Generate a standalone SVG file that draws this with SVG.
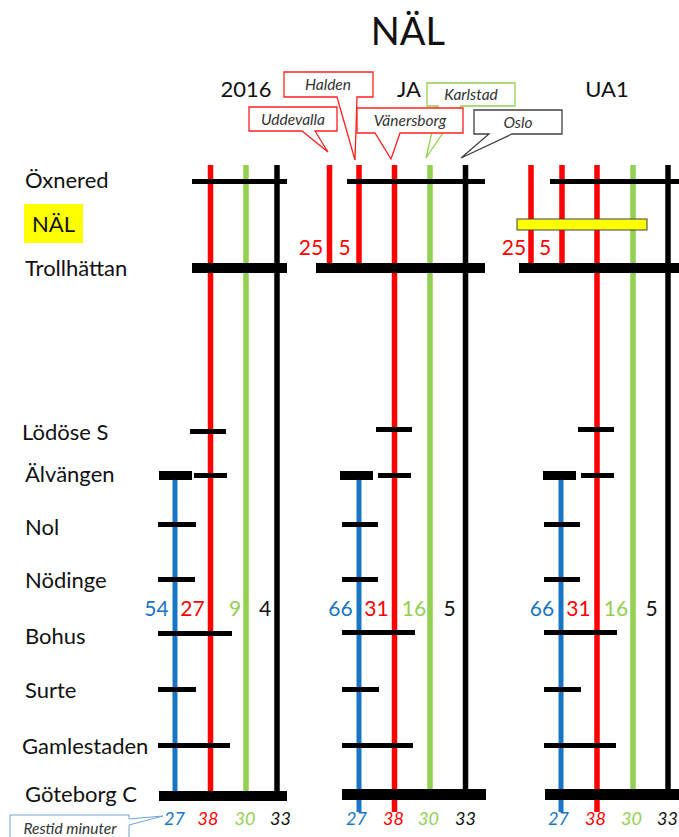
<svg xmlns="http://www.w3.org/2000/svg" width="679" height="837" viewBox="0 0 679 837">
<style>
text{font-family:Lato,"Liberation Sans",sans-serif;fill:#111}
.st{font-size:22px}
.hd{font-size:22px}
.num{font-size:21px;text-anchor:middle}
.bn{font-size:18px;font-style:italic;text-anchor:middle}
.co{font-size:15.5px;font-style:italic;text-anchor:middle;fill:#333}
.r{stroke:#FF0000;stroke-width:5.5;fill:none}
.g{stroke:#92D050;stroke-width:5.5;fill:none}
.k{stroke:#000;stroke-width:5.5;fill:none}
.b{stroke:#1874C4;stroke-width:5;fill:none}
.bar{fill:#000}
.tr{fill:#FF0000}.tg{fill:#92D050}.tb{fill:#1874C4}.tk{fill:#111}
.cr{fill:#fff;stroke:#FF2020;stroke-width:1.3}
.cg{fill:#fff;stroke:#92D050;stroke-width:1.3}
.ck{fill:#fff;stroke:#404040;stroke-width:1.3}
.cb{fill:#fff;stroke:#6FA3D8;stroke-width:1}
</style>
<rect width="679" height="837" fill="#fff"/>
<text x="408" y="45" font-size="38" text-anchor="middle">NÄL</text>
<g id="headers">
<text x="246" y="97" text-anchor="middle" class="hd">2016</text>
<text x="409" y="97" text-anchor="middle" class="hd">JA</text>
<text x="607" y="97" text-anchor="middle" class="hd">UA1</text>
</g>
<g id="stations">
<text class="st" x="25" y="188">Öxnered</text>
<g id="nal-label"><rect x="24" y="204" width="59" height="39" fill="#FFFF00"/><text class="st" x="32" y="232" font-size="23">NÄL</text></g>
<text class="st" x="25" y="276">Trollhättan</text>
<text class="st" x="22" y="440">Lödöse S</text>
<text class="st" x="25" y="482">Älvängen</text>
<text class="st" x="25" y="535">Nol</text>
<text class="st" x="25" y="588">Nödinge</text>
<text class="st" x="25" y="644">Bohus</text>
<text class="st" x="25" y="698">Surte</text>
<text class="st" x="22" y="754">Gamlestaden</text>
<text class="st" x="25" y="802">Göteborg C</text>
</g>
<g id="connectors">
<line class="r" x1="210.5" y1="165" x2="210.5" y2="795"/>
<line class="g" x1="246" y1="165" x2="246" y2="795"/>
<line class="k" x1="277" y1="165" x2="277" y2="797"/>
<line class="b" x1="175" y1="476" x2="175" y2="795"/>
<line class="r" x1="329.5" y1="165" x2="329.5" y2="266"/>
<line class="r" x1="359" y1="165" x2="359" y2="266"/>
<line class="r" x1="394.5" y1="165" x2="394.5" y2="812"/>
<line class="g" x1="430" y1="165" x2="430" y2="795"/>
<line class="k" x1="465.5" y1="165" x2="465.5" y2="795"/>
<line class="b" x1="359" y1="476" x2="359" y2="812"/>
<line class="r" x1="531" y1="165" x2="531" y2="266"/>
<line class="r" x1="562" y1="165" x2="562" y2="266"/>
<line class="r" x1="597" y1="165" x2="597" y2="812"/>
<line class="g" x1="633" y1="165" x2="633" y2="795"/>
<line class="k" x1="668" y1="165" x2="668" y2="795"/>
<line class="b" x1="561" y1="476" x2="561" y2="812"/>
</g>
<g id="panel-2016">
<rect class="bar" x="192" y="179" width="95" height="5"/>
<rect class="bar" x="192" y="263" width="95" height="10"/>
<rect class="bar" x="190" y="429" width="36" height="5"/>
<rect class="bar" x="194" y="473" width="33" height="5"/>
<rect class="bar" x="159" y="471" width="33" height="9"/>
<rect class="bar" x="158" y="522" width="38" height="5"/>
<rect class="bar" x="158" y="577" width="37" height="5"/>
<rect class="bar" x="158" y="631" width="74" height="5"/>
<rect class="bar" x="158" y="687" width="38" height="5"/>
<rect class="bar" x="158" y="743" width="72" height="5"/>
<rect class="bar" x="159" y="791" width="128" height="10"/>
<text class="num tb" x="156.5" y="616">54</text>
<text class="num tr" x="192.5" y="616">27</text>
<text class="num tg" x="235" y="616">9</text>
<text class="num tk" x="265" y="616">4</text>
<text class="bn tb" x="174.5" y="825">27</text>
<text class="bn tr" x="208" y="825">38</text>
<text class="bn tg" x="245" y="825">30</text>
<text class="bn tk" x="280.5" y="825">33</text>
</g>
<g id="panel-JA">
<rect class="bar" x="347" y="179" width="138" height="5"/>
<rect class="bar" x="316" y="263" width="169" height="10"/>
<rect class="bar" x="376" y="427" width="36" height="5"/>
<rect class="bar" x="378" y="473" width="33" height="5"/>
<rect class="bar" x="340" y="471" width="33" height="9"/>
<rect class="bar" x="342" y="522" width="36" height="5"/>
<rect class="bar" x="342" y="577" width="36" height="5"/>
<rect class="bar" x="342" y="630" width="73" height="5"/>
<rect class="bar" x="342" y="687" width="37" height="5"/>
<rect class="bar" x="342" y="743" width="71" height="5"/>
<rect class="bar" x="342" y="789" width="144" height="11"/>
<text class="num tr" x="311" y="255">25</text>
<text class="num tr" x="344.5" y="255">5</text>
<text class="num tb" x="340.5" y="616">66</text>
<text class="num tr" x="376.5" y="616">31</text>
<text class="num tg" x="414" y="616">16</text>
<text class="num tk" x="449.5" y="616">5</text>
<text class="bn tb" x="356.5" y="825">27</text>
<text class="bn tr" x="393.5" y="825">38</text>
<text class="bn tg" x="428.5" y="825">30</text>
<text class="bn tk" x="465.5" y="825">33</text>
</g>
<g id="panel-UA1">
<rect class="bar" x="550" y="179" width="129" height="5"/>
<rect x="517" y="219" width="130" height="11" fill="#FFFF00" stroke="#404040" stroke-width="1"/>
<rect class="bar" x="519" y="263" width="160" height="10"/>
<rect class="bar" x="578" y="427" width="36" height="5"/>
<rect class="bar" x="581" y="473" width="33" height="5"/>
<rect class="bar" x="543" y="471" width="33" height="9"/>
<rect class="bar" x="544" y="522" width="36" height="5"/>
<rect class="bar" x="544" y="577" width="36" height="5"/>
<rect class="bar" x="544" y="630" width="73" height="5"/>
<rect class="bar" x="544" y="687" width="37" height="5"/>
<rect class="bar" x="544" y="743" width="72" height="5"/>
<rect class="bar" x="545" y="789" width="134" height="11"/>
<text class="num tr" x="514" y="255">25</text>
<text class="num tr" x="545" y="255">5</text>
<text class="num tb" x="542" y="616">66</text>
<text class="num tr" x="578.5" y="616">31</text>
<text class="num tg" x="616" y="616">16</text>
<text class="num tk" x="651.5" y="616">5</text>
<text class="bn tb" x="558.5" y="825">27</text>
<text class="bn tr" x="595.5" y="825">38</text>
<text class="bn tg" x="631.5" y="825">30</text>
<text class="bn tk" x="667.5" y="825">33</text>
</g>
<g id="callouts">
<g id="c-karlstad"><path class="cg" d="M427,83 H515 V106 H461 L426,158 L438,106 H427 Z"/><text class="co" x="471" y="100">Karlstad</text></g>
<g id="c-halden"><path class="cr" d="M284,72 H373 V97 H357 L355,160 L337,97 H284 Z"/><text class="co" x="328" y="90">Halden</text></g>
<g id="c-uddevalla"><path class="cr" d="M249,107 H337 V131 H315 L328,152 L302,131 H249 Z"/><text class="co" x="293" y="125">Uddevalla</text></g>
<g id="c-vanersborg"><path class="cr" d="M357,108 H463 V133 H400 L391,159 L375,133 H357 Z"/><text class="co" x="410" y="126">Vänersborg</text></g>
<g id="c-oslo"><path class="ck" d="M474,110 H562 V134 H512 L461,158 L489,134 H474 Z"/><text class="co" x="518" y="128">Oslo</text></g>
<g id="c-restid"><path class="cb" d="M10,815 H129 V819 L163,816 L129,825 V845 H10 Z"/><text class="co" x="70" y="834" font-size="14.5">Restid minuter</text></g>
</g>
</svg>
